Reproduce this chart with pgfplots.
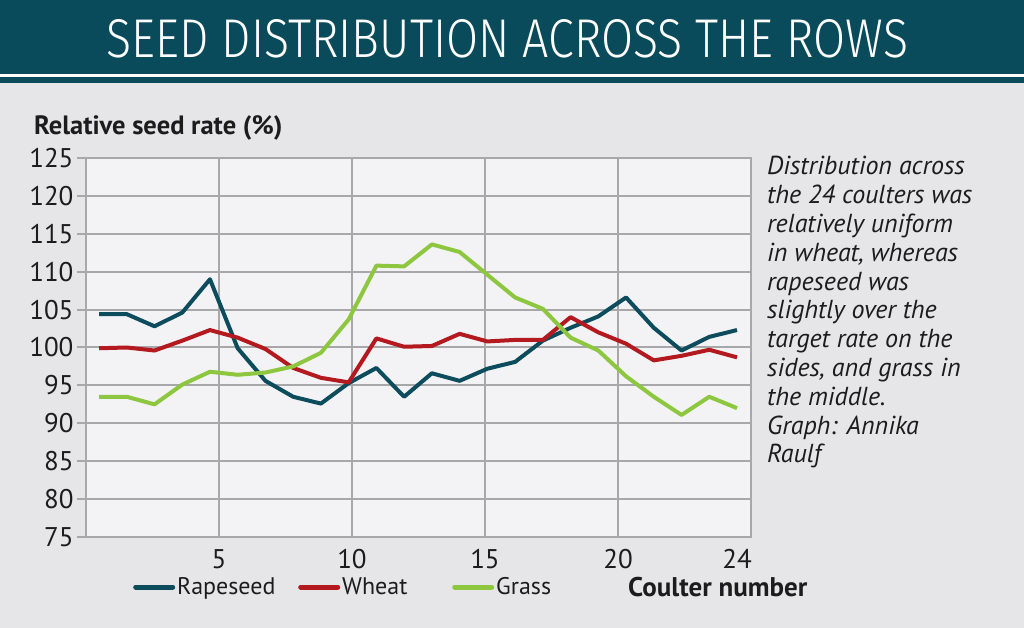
\documentclass[border=0pt]{standalone}
\usepackage{pgfplots}
\pgfplotsset{compat=1.18}
\usepackage{fontspec}
\setmainfont{PT Sans}
\newfontfamily\titlefont{Fira Sans Light}
\definecolor{bg}{HTML}{E6E6E8}
\definecolor{plotbg}{HTML}{F3F3F5}
\definecolor{banner}{HTML}{0A4B5B}
\definecolor{rape}{HTML}{0D4C5C}
\definecolor{wheat}{HTML}{B3191F}
\definecolor{grass}{HTML}{8DC63F}
\definecolor{gridc}{HTML}{A8A8AA}
\definecolor{txt}{HTML}{1C1C1C}
\begin{document}
\begin{tikzpicture}[x=1pt,y=1pt]
\fill[bg] (0pt,0pt) rectangle (1024pt,628pt);
\fill[banner] (0pt,553.5pt) rectangle (1024pt,628pt);
\fill[white] (0pt,551pt) rectangle (1024pt,553.5pt);
\fill[banner] (0pt,545pt) rectangle (1024pt,551pt);
\node[white, inner sep=0pt] at (507.5pt,589pt) {\resizebox{801pt}{38pt}{\titlefont SEED DISTRIBUTION ACROSS THE ROWS}};
\begin{axis}[at={(86pt,91pt)}, anchor=south west, scale only axis,
  width=665pt, height=379pt,
  xmin=0.531, xmax=24.505, ymin=75, ymax=125,
  axis background/.style={fill=plotbg},
  grid=major, grid style={gridc, line width=2pt},
  axis line style={gridc, line width=2pt},
  tick style={gridc, line width=2pt},
  major tick length=9pt, tick align=outside, tick pos=left,
  x tick style={draw=none},
  xtick={5.326,10.12,14.915,19.71}, xticklabels={5,10,15,20},
  extra x ticks={24}, extra x tick labels={24},
  extra x tick style={grid=none, tick style={draw=none}},
  ytick={75,80,...,125},
  ticklabel style={font=\fontsize{27}{27}\selectfont, text=txt},
  /pgf/number format/assume math mode=true,
  legend columns=3,
  legend style={draw=none, fill=none, at={(0.0707,-0.132)}, anchor=west,
    font=\fontsize{24}{24}\selectfont, text=txt, inner sep=0pt, column sep=0pt},
  legend image code/.code={\draw[#1, line width=5pt, line cap=round] (0pt,0pt) -- (37pt,0pt);},
]
\addplot[rape, line width=4pt, line join=round] coordinates {(1,104.4) (2,104.4) (3,102.8) (4,104.6) (5,109.0) (6,99.9) (7,95.6) (8,93.5) (9,92.6) (10,95.3) (11,97.3) (12,93.5) (13,96.6) (14,95.6) (15,97.2) (16,98.1) (17,100.9) (18,102.6) (19,104.1) (20,106.6) (21,102.6) (22,99.6) (23,101.4) (24,102.3)};
\addlegendentry{\makebox[119pt][l]{Rapeseed}}
\addplot[wheat, line width=4pt, line join=round] coordinates {(1,99.9) (2,100.0) (3,99.6) (4,100.9) (5,102.3) (6,101.3) (7,99.8) (8,97.3) (9,96.0) (10,95.4) (11,101.2) (12,100.1) (13,100.2) (14,101.8) (15,100.8) (16,101.0) (17,101.0) (18,104.0) (19,102.0) (20,100.5) (21,98.3) (22,98.9) (23,99.7) (24,98.7)};
\addlegendentry{\makebox[108pt][l]{Wheat}}
\addplot[grass, line width=4pt, line join=round] coordinates {(1,93.5) (2,93.5) (3,92.5) (4,95.1) (5,96.8) (6,96.4) (7,96.7) (8,97.5) (9,99.3) (10,103.7) (11,110.8) (12,110.7) (13,113.6) (14,112.6) (15,109.6) (16,106.6) (17,105.1) (18,101.3) (19,99.6) (20,96.2) (21,93.5) (22,91.1) (23,93.5) (24,92.0)};
\addlegendentry{Grass}
\end{axis}
\node[anchor=base west, inner sep=0pt, text=txt, font=\bfseries\fontsize{26.5}{26.5}\selectfont] at (34pt,493pt) {Relative seed rate (\%)};
\node[anchor=base west, inner sep=0pt, text=txt, font=\bfseries\fontsize{27}{27}\selectfont] at (628pt,31pt) {Coulter number};
\foreach \t [count=\i from 0] in {Distribution across, the 24 coulters was, relatively uniform, {in wheat, whereas}, rapeseed was, slightly over the, target rate on the, {sides, and grass in}, the middle., Graph: Annika, Raulf}
  \node[anchor=base west, inner sep=0pt, text=txt, font=\itshape\fontsize{26}{26}\selectfont] at (767pt,453pt-28.8pt*\i) {\t};
\end{tikzpicture}
\end{document}
